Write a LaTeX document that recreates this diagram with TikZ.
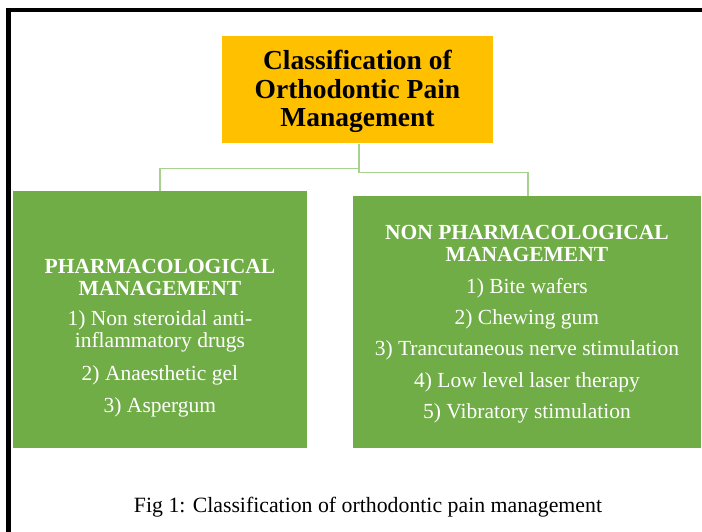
\documentclass[tikz,border=0pt]{standalone}
\usepackage{fontspec}
\setmainfont{Liberation Serif}
\definecolor{orangebox}{HTML}{FFC000}
\definecolor{greenbox}{HTML}{70AD47}
\definecolor{connline}{HTML}{A9D18E}
\tikzset{
  titlebox/.style={fill=orangebox, draw=none, inner sep=0pt, anchor=north west},
  titletext/.style={align=center, inner sep=0pt,
    font=\fontsize{27.5}{28.5}\selectfont\bfseries, text=black},
  catbox/.style={fill=greenbox, draw=none, inner sep=0pt, anchor=north west},
  cattext/.style={align=center, inner sep=0pt,
    font=\fontsize{21.5}{21.5}\selectfont, text=white},
  conn/.style={draw=connline, line width=1.6pt},
  frameline/.style={draw=black, line width=4.5pt, line join=miter},
  captionstyle/.style={font=\fontsize{21.8}{24}\selectfont, text=black, inner sep=0pt}
}
\begin{document}
\begin{tikzpicture}[x=1pt, y=-1pt]
\useasboundingbox (0,0) rectangle (702,532);
\fill[white] (0,0) rectangle (702,532);
\draw[frameline] (8.5,532) -- (8.5,10) -- (702,10);

\node[titlebox, minimum width=270.5pt, minimum height=107.5pt] (title) at (222,35.8) {};
\node[titletext] (titlelabel) at ([yshift=-2pt]title.center)
  {Classification of\\Orthodontic Pain\\Management};

\node[catbox, minimum width=294.5pt, minimum height=256.5pt] (left) at (12.5,191) {};
\node[cattext] (lefttext) at ([yshift=-19pt]left.center)
  {{\bfseries PHARMACOLOGICAL}\\{\bfseries MANAGEMENT}\\[9pt]
   1) Non steroidal anti-\\inflammatory drugs\\[11.5pt]
   2) Anaesthetic gel\\[11pt]
   3) Aspergum};

\node[catbox, minimum width=348.5pt, minimum height=251.5pt] (right) at (352.5,196) {};
\node[cattext] (righttext) at ([yshift=-2.5pt]right.center)
  {{\bfseries NON PHARMACOLOGICAL}\\{\bfseries MANAGEMENT}\\[10.5pt]
   1) Bite wafers\\[10pt]
   2) Chewing gum\\[10pt]
   3) Trancutaneous nerve stimulation\\[10pt]
   4) Low level laser therapy\\[10pt]
   5) Vibratory stimulation};

\draw[conn] ([xshift=1.5pt]title.south) -- ++(0,25) -| (left.north);
\draw[conn] ([xshift=1.5pt]title.south) -- ++(0,29) -| ([xshift=1pt]right.north);

\node[captionstyle] (caption) at (368,507) {Fig 1: Classification of orthodontic pain management};
\end{tikzpicture}
\end{document}
